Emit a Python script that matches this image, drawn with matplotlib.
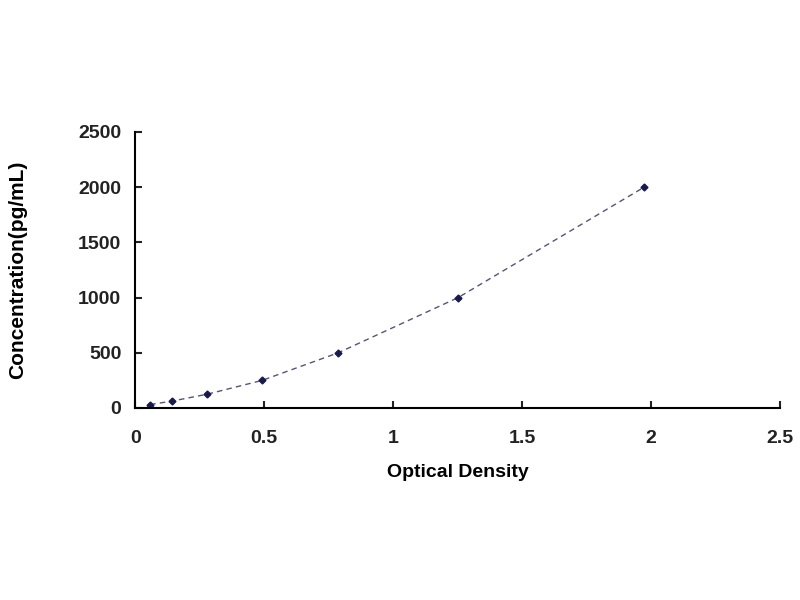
import numpy as np
import matplotlib.pyplot as plt

# standard curve points
od = [0.058, 0.143, 0.279, 0.492, 0.787, 1.252, 1.973]
conc = [31.25, 62.5, 125, 250, 500, 1000, 2000]

plt.rcParams['font.family'] = ['Liberation Sans', 'DejaVu Sans']
plt.rcParams['font.weight'] = 'bold'

fig = plt.figure(figsize=(8, 6), dpi=100)
ax = fig.add_axes([0.169, 0.32, 0.806, 0.46])

ax.plot(od, conc, linestyle=(0, (4, 3)), color='#555577', linewidth=1.0)
ax.plot(od, conc, 'D', color='#1a1a4a', markersize=3.5)

ax.set_xlim(0, 2.5)
ax.set_ylim(0, 2500)
ax.set_xticks([0, 0.5, 1, 1.5, 2, 2.5])
ax.set_xticklabels(['0', '0.5', '1', '1.5', '2', '2.5'])
ax.set_yticks([0, 500, 1000, 1500, 2000, 2500])

ax.spines['top'].set_visible(False)
ax.spines['right'].set_visible(False)
ax.spines['left'].set_linewidth(1.5)
ax.spines['bottom'].set_linewidth(1.5)
ax.tick_params(direction='in', length=5, width=1.5, labelsize=14, colors='#222222')
ax.tick_params(axis='x', pad=16)
ax.tick_params(axis='y', pad=10)
for lab in ax.get_xticklabels() + ax.get_yticklabels():
    lab.set_fontweight('bold')

ax.set_xlabel('Optical Density', fontsize=14, fontweight='bold', labelpad=12)
ax.set_ylabel('Concentration(pg/mL)', fontsize=15, fontweight='bold', labelpad=37)

fig.savefig('out.png', dpi=100)
